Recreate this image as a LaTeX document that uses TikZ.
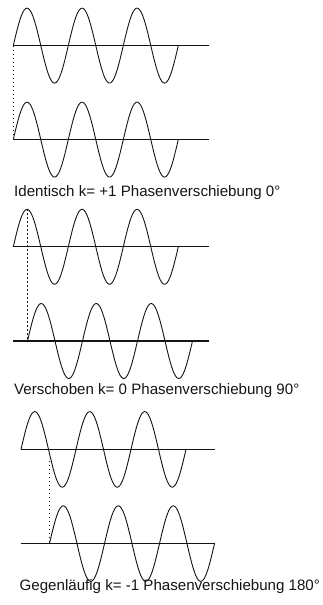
\documentclass[tikz,border=0pt]{standalone}
\usepackage{fontspec}
\setmainfont{Liberation Sans}
\usetikzlibrary{positioning}
\definecolor{PhInk}{RGB}{20,20,20}
\tikzset{
  ph/axis/.style={draw=PhInk, line width=1.3pt},
  ph/wave/.style={draw=PhInk, line width=0.9pt, line join=round},
  ph/guide/.style={draw=PhInk, line width=1.4pt, dash pattern=on 1.4pt off 2.6pt},
  ph/caption/.style={font=\fontsize{15.1}{18}\selectfont, text=PhInk, inner sep=0pt, anchor=base west}
}

\begin{document}
\begin{tikzpicture}[x=1pt,y=-1pt]
  \useasboundingbox (0,0) rectangle (322,605);
  % Identisch
  \draw[ph/axis] (13.3,45.6) -- (209.3,45.6);
  \draw[ph/wave] plot[domain=0:165,samples=120] ({13.3+\x},{45.6-37.5*sin(\x/55*360)});
  \draw[ph/axis] (13.3,139.6) -- (209.3,139.6);
  \draw[ph/wave] plot[domain=0:165,samples=120] ({13.3+\x},{139.6-37.5*sin(\x/55*360)});
  \coordinate (g1a) at (13.3,45.6);
  \coordinate (g1b) at (13.3,139.6);
  \draw[ph/guide] (g1a) -- (g1b);
  \node[ph/caption] (cap1) at (14,196.5) {Identisch k= +1 Phasenverschiebung 0°};
  % Verschoben
  \draw[ph/axis] (13.3,246.8) -- (209.3,246.8);
  \draw[ph/wave] plot[domain=0:165,samples=120] ({13.3+\x},{246.8-37.5*sin(\x/55*360)});
  \draw[ph/axis] (13.3,341) -- (209.3,341);
  \draw[ph/wave] plot[domain=0:165,samples=120] ({27.5+\x},{341-37.5*sin(\x/55*360)});
  \coordinate (g2a) at (27.5,209.3);
  \coordinate (g2b) at (27.5,341);
  \draw[ph/guide] (g2a) -- (g2b);
  \node[ph/caption] (cap2) at (14,394) {Verschoben k= 0 Phasenverschiebung 90°};
  % Gegenlaeufig
  \draw[ph/axis] (20.7,449.4) -- (215,449.4);
  \draw[ph/wave] plot[domain=0:165,samples=120] ({21+\x},{449.4-37.8*sin(\x/55*360)});
  \draw[ph/axis] (20.7,543.6) -- (215,543.6);
  \draw[ph/wave] plot[domain=0:165,samples=120] ({49.5+\x},{543.6-37.8*sin(\x/55*360)});
  \coordinate (g3a) at (49.5,461);
  \coordinate (g3b) at (49.5,543.6);
  \draw[ph/guide] (g3a) -- (g3b);
  \node[ph/caption] (cap3) at (19.5,590) {Gegenläufig k= -1 Phasenverschiebung 180°};
\end{tikzpicture}
\end{document}
